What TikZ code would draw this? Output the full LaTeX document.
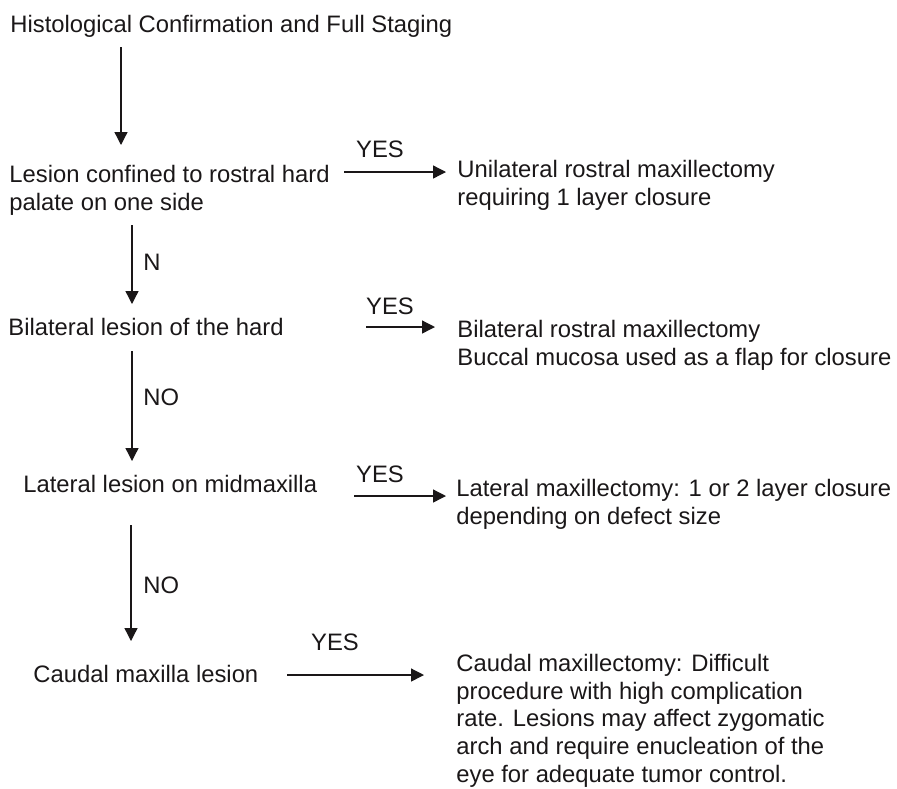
\documentclass[tikz,border=0pt]{standalone}
\usepackage{fontspec}
\setmainfont{Liberation Sans}
\usetikzlibrary{arrows.meta,positioning}
\definecolor{FlowInk}{HTML}{1A1718}
\tikzset{
  flowtext/.style={inner sep=0pt,align=left,text=FlowInk,font=\fontsize{11.9}{13.8}\selectfont},
  answertext/.style={inner sep=0pt,text=FlowInk,font=\fontsize{11.9}{13.8}\selectfont},
  flowarrow/.style={-{Triangle[length=6.5pt,width=6.5pt]},line width=0.65pt,draw=FlowInk}
}
\begin{document}
\begin{tikzpicture}[x=0.5pt,y=-0.5pt]
\useasboundingbox (0,0) rectangle (897,788);
% decisions, left column
\node[flowtext,anchor=base west] (staging) at (10,32) {Histological Confirmation and Full Staging};
\node[flowtext,anchor=north west] (rostral) at (9,165) {Lesion confined to rostral hard\\palate on one side};
\node[flowtext,anchor=base west] (bilat) at (8,335) {Bilateral lesion of the hard};
\node[flowtext,anchor=base west] (midmax) at (23,492) {Lateral lesion on midmaxilla};
\node[flowtext,anchor=base west] (caudal) at (33,682) {Caudal maxilla lesion};
% procedures, right column
\node[flowtext,anchor=north west] (unirostral) at (457,160) {Unilateral rostral maxillectomy\\requiring 1 layer closure};
\node[flowtext,anchor=north west] (birostral) at (457,320) {Bilateral rostral maxillectomy\\Buccal mucosa used as a flap for closure};
\node[flowtext,anchor=north west] (latmax) at (456,479) {Lateral maxillectomy: 1 or 2 layer closure\\depending on defect size};
\node[flowtext,anchor=north west] (caudmax) at (456,654) {Caudal maxillectomy: Difficult\\procedure with high complication\\rate. Lesions may affect zygomatic\\arch and require enucleation of the\\eye for adequate tumor control.};
% arrow ends
\coordinate (v1a) at (121,47);  \coordinate (v1b) at (121,145);
\coordinate (v2a) at (132,225); \coordinate (v2b) at (132,304);
\coordinate (v3a) at (132,351); \coordinate (v3b) at (132,461);
\coordinate (v4a) at (131,525); \coordinate (v4b) at (131,641);
\coordinate (h1a) at (344,172); \coordinate (h1b) at (446,172);
\coordinate (h2a) at (366,327); \coordinate (h2b) at (435,327);
\coordinate (h3a) at (354,496); \coordinate (h3b) at (446,496);
\coordinate (h4a) at (287,675); \coordinate (h4b) at (424,675);
\draw[flowarrow] (v1a) -- (v1b);
\draw[flowarrow] (v2a) -- (v2b);
\draw[flowarrow] (v3a) -- (v3b);
\draw[flowarrow] (v4a) -- (v4b);
\draw[flowarrow] (h1a) -- (h1b);
\draw[flowarrow] (h2a) -- (h2b);
\draw[flowarrow] (h3a) -- (h3b);
\draw[flowarrow] (h4a) -- (h4b);
% answers
\node[answertext,anchor=west] (no1) at (143,262) {N};
\node[answertext,anchor=west] (no2) at (143,397) {NO};
\node[answertext,anchor=west] (no3) at (143,585) {NO};
\node[answertext,anchor=base] (yes1) at (380,157) {YES};
\node[answertext,anchor=base] (yes2) at (390,314) {YES};
\node[answertext,anchor=base] (yes3) at (380,482) {YES};
\node[answertext,anchor=base] (yes4) at (335,650) {YES};
\end{tikzpicture}
\end{document}
